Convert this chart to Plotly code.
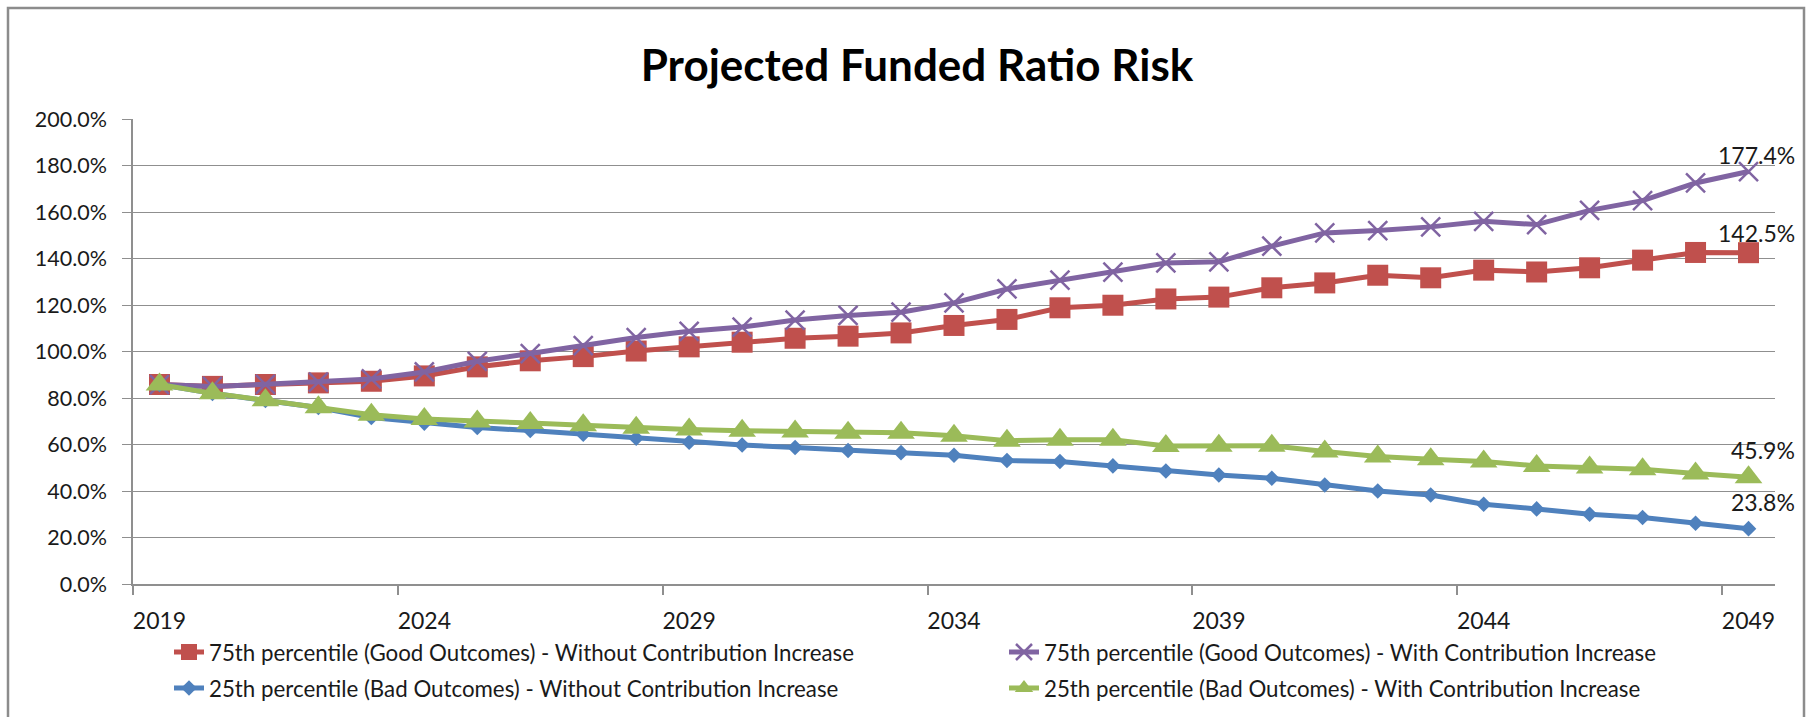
import plotly.graph_objects as go

years = list(range(2019, 2050))

p75_without = [85.8, 85.0, 85.8, 86.5, 87.2, 89.5, 93.4, 96.0, 97.8, 100.2, 102.0,
               104.0, 105.7, 106.6, 108.0, 111.2, 113.8, 118.8, 119.9, 122.6, 123.4,
               127.4, 129.5, 132.8, 131.7, 135.0, 134.2, 136.0, 139.3, 142.6, 142.5]
p75_with = [85.8, 85.0, 85.9, 86.8, 88.2, 91.2, 95.8, 99.1, 102.5, 106.0, 108.7,
            110.5, 113.5, 115.5, 116.9, 120.9, 126.9, 130.7, 134.1, 138.1, 138.6,
            145.3, 151.0, 152.0, 153.6, 156.0, 154.6, 160.7, 164.9, 172.5, 177.4]
p25_without = [85.8, 82.0, 78.9, 75.9, 71.6, 69.2, 67.3, 66.0, 64.4, 62.7, 61.0,
               59.8, 58.7, 57.4, 56.5, 55.4, 53.1, 52.7, 50.8, 48.6, 46.9,
               45.5, 42.6, 40.0, 38.3, 34.3, 32.3, 30.0, 28.6, 26.1, 23.8]
p25_with = [85.8, 82.0, 79.0, 76.0, 72.8, 71.0, 69.9, 69.2, 68.3, 67.2, 66.5,
            65.9, 65.6, 65.1, 65.1, 63.8, 61.6, 62.0, 62.0, 59.4, 59.5,
            59.5, 57.0, 54.8, 53.7, 52.7, 50.8, 50.1, 49.4, 47.5, 45.9]

names = [
    "75th percentile (Good Outcomes) - Without Contribution Increase",
    "75th percentile (Good Outcomes) - With Contribution Increase",
    "25th percentile (Bad Outcomes) - Without Contribution Increase",
    "25th percentile (Bad Outcomes) - With Contribution Increase",
]
label_years = [2019, 2024, 2029, 2034, 2039, 2044, 2049]
title_text = "Projected Funded Ratio Risk"

FONT = "Lato"
TXT = "#1a1a1a"
GRID = "#8f8f8f"

series = [
    (p75_without, names[0], "#C0504D", dict(symbol="square", size=21, color="#C0504D"), "legend"),
    (p75_with, names[1], "#8064A2", dict(symbol="x-thin", size=19, color="#8064A2",
                                         line=dict(color="#8064A2", width=2.5)), "legend2"),
    (p25_without, names[2], "#4F81BD", dict(symbol="diamond", size=12, color="#4F81BD"), "legend"),
    (p25_with, names[3], "#9BBB59", dict(symbol="triangle-up", size=24, color="#9BBB59"), "legend2"),
]

fig = go.Figure()
for i, (vals, nm, col, mk, lg) in enumerate(series):
    fig.add_trace(go.Scatter(x=years, y=vals, name=nm, mode="lines+markers",
                             line=dict(color=col, width=5), marker=mk,
                             legend=lg, legendgroup=f"g{i}"))

# end-point data labels
for vals, yshift in [(p75_with, 17), (p75_without, 20), (p25_with, 27), (p25_without, 27)]:
    fig.add_annotation(x=years[-1], y=vals[-1], text=f"{vals[-1]:.1f}%", showarrow=False,
                       xanchor="right", yanchor="middle", xshift=48, yshift=yshift,
                       font=dict(family=FONT, size=23, color=TXT))

W, H = 1811, 717
L, R, T, B = 133, 36, 119, 133
pw, ph = W - L - R, H - T - B

def px_to_paper_x(px):
    return (px - L) / pw

def px_to_paper_y(py):
    return (H - B - py) / ph

# outer chart border
fig.add_shape(type="rect", xref="paper", yref="paper",
              x0=px_to_paper_x(8), x1=px_to_paper_x(1804),
              y0=px_to_paper_y(730), y1=px_to_paper_y(8),
              line=dict(color="#8c8c8c", width=2.5), fillcolor="rgba(0,0,0,0)", layer="below")

legend_common = dict(orientation="v", yanchor="top", y=px_to_paper_y(631),
                     font=dict(family=FONT, size=22.3, color=TXT),
                     bgcolor="rgba(0,0,0,0)", itemclick=False, tracegroupgap=4)

fig.update_layout(
    width=W, height=H,
    margin=dict(l=L, r=R, t=T, b=B, autoexpand=False),
    paper_bgcolor="white", plot_bgcolor="white",
    title=dict(text=title_text, x=917 / W, xref="container", xanchor="center",
               y=1 - 66 / H, yref="container", yanchor="middle",
               font=dict(family=FONT, size=44, color="black", weight="bold")),
    showlegend=True,
    legend=dict(x=px_to_paper_x(169), xanchor="left", **legend_common),
    legend2=dict(x=px_to_paper_x(169 + 835), xanchor="left", **legend_common),
    hovermode=False,
)

fig.update_xaxes(range=[2018.5, 2049.5], tickmode="array", tickvals=label_years,
                 ticktext=[str(y) for y in label_years], ticks="",
                 showgrid=False, zeroline=False, showline=True, linecolor=GRID, linewidth=1.5,
                 tickfont=dict(family=FONT, size=23, color=TXT), ticklabelstandoff=16,
                 minor=dict(tickmode="linear", tick0=2018.5, dtick=5, ticks="outside",
                            ticklen=9, tickcolor=GRID, tickwidth=1.5, showgrid=False))
fig.update_yaxes(range=[0, 200], dtick=20, tick0=0, tickformat=".1f", ticksuffix="%",
                 showgrid=True, gridcolor=GRID, gridwidth=1.3, zeroline=False,
                 showline=True, linecolor=GRID, linewidth=1.5,
                 ticks="outside", ticklen=9, tickcolor=GRID, tickwidth=1.3,
                 tickfont=dict(family=FONT, size=21.5, color=TXT), ticklabelstandoff=11)

fig.write_html("out.html")
